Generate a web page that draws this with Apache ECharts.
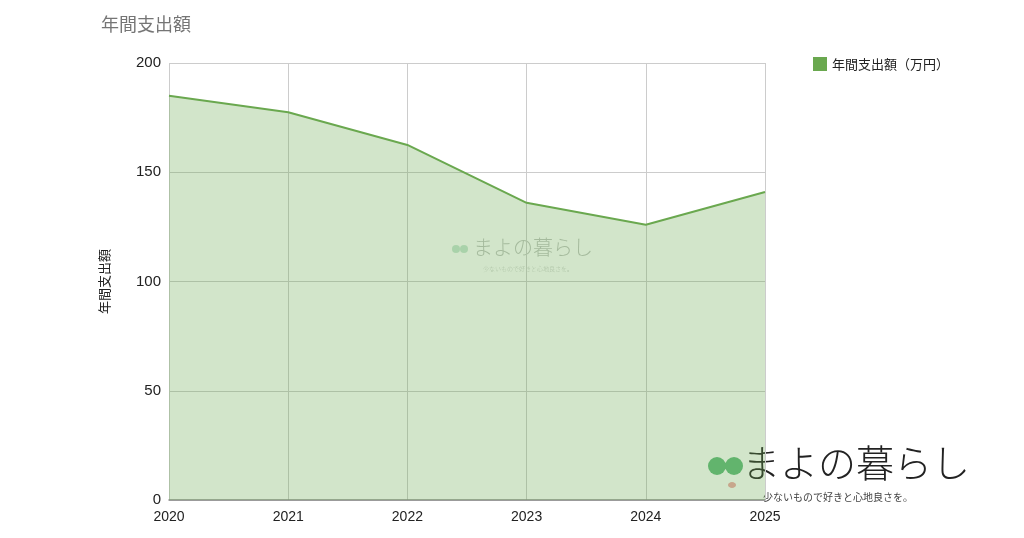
<!DOCTYPE html>
<html><head><meta charset="utf-8">
<script src="https://cdn.jsdelivr.net/npm/echarts@6/dist/echarts.min.js"></script>
<style>html,body{margin:0;padding:0;background:#fff}#c{width:1024px;height:538px}</style>
</head><body><div id="c"></div>
<script>
const years = ['2020','2021','2022','2023','2024','2025'];
const spending = [185, 177.5, 162.5, 136, 126, 141];
const yTicks = [0, 50, 100, 150, 200];
const titleText = '年間支出額';
const seriesName = '年間支出額（万円）';
const yName = '年間支出額';
const logoMain = 'まよの暮らし';
const logoSub = '少ないもので好きと心地良さを。';

const font = '"Noto Sans CJK JP", "Noto Sans", sans-serif';
const numFont = '"Liberation Sans", Arial, sans-serif';
const chart = echarts.init(document.getElementById('c'));
chart.setOption({
  animation: false,
  title: {text: titleText, left: 96, top: 10, textStyle: {color: '#757575', fontSize: 18, fontWeight: 'normal', fontFamily: font}},
  legend: {right: 70, top: 52, itemWidth: 14, itemHeight: 14, icon: 'rect', itemGap: 8,
    textStyle: {color: '#222', fontSize: 13, fontFamily: font}, data: [seriesName]},
  grid: {left: 169, right: 259, top: 63, bottom: 38, containLabel: false},
  xAxis: {type: 'category', data: years, boundaryGap: false,
    axisLine: {lineStyle: {color: '#8a8a8a', width: 1.5}}, axisTick: {show: false},
    axisLabel: {color: '#222', fontSize: 14, fontFamily: numFont, margin: 10},
    splitLine: {show: true, lineStyle: {color: '#cccccc', width: 1}}},
  yAxis: {type: 'value', min: yTicks[0], max: yTicks[yTicks.length-1], interval: 50,
    name: yName, nameLocation: 'middle', nameGap: 58, nameRotate: 90,
    nameTextStyle: {color: '#222', fontSize: 13, fontFamily: font},
    axisLine: {show: false}, axisTick: {show: false},
    axisLabel: {color: '#222', fontSize: 15, fontFamily: numFont, margin: 8},
    splitLine: {lineStyle: {color: '#cccccc', width: 1}}},
  series: [{name: seriesName, type: 'line', data: spending, symbol: 'none',
    lineStyle: {color: '#6aa84f', width: 2}, itemStyle: {color: '#6aa84f'},
    areaStyle: {color: '#6aa84f', opacity: 0.3}}],
  graphic: [
    {type: 'group', left: 452, top: 237, z: 100, silent: true, children: [
      {type: 'circle', shape: {cx: 7, cy: 12, r: 4}, style: {fill: '#7fc49a', opacity: 0.45}},
      {type: 'circle', shape: {cx: 15, cy: 12, r: 4}, style: {fill: '#7fc49a', opacity: 0.45}},
      {type: 'text', x: 24, y: 0, style: {text: logoMain, fill: 'rgba(110,120,110,0.45)', font: '300 20px ' + font}},
      {type: 'text', x: 34, y: 29, style: {text: logoSub, fill: 'rgba(110,120,110,0.4)', font: '300 6px ' + font}}
    ]},
    {type: 'group', left: 708, top: 444, z: 100, silent: true, children: [
      {type: 'circle', shape: {cx: 12, cy: 22, r: 9}, style: {fill: '#5fb97a'}},
      {type: 'circle', shape: {cx: 29, cy: 22, r: 9}, style: {fill: '#5fb97a'}},
      {type: 'rect', shape: {x: 12, y: 19, width: 17, height: 6}, style: {fill: '#5fb97a'}},
      {type: 'ellipse', shape: {cx: 27, cy: 41, rx: 4, ry: 3}, style: {fill: '#f0a6a6'}},
      {type: 'text', x: 37, y: 0, style: {text: logoMain, fill: '#222', font: '300 38px ' + font}},
      {type: 'text', x: 58, y: 48, style: {text: logoSub, fill: '#444', font: '10px ' + font}}
    ]}
  ]
});
</script></body></html>
